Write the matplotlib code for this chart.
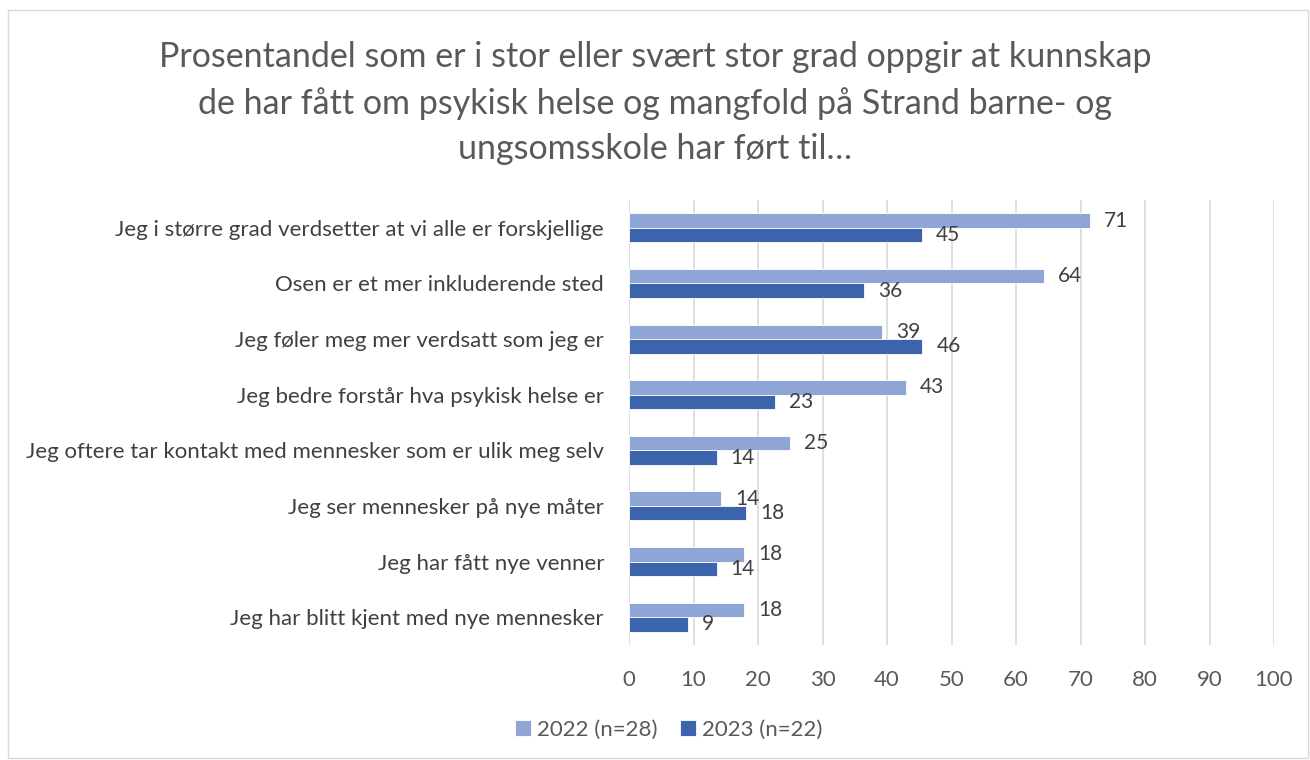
import matplotlib
matplotlib.use('Agg')
import matplotlib.pyplot as plt
import matplotlib.patches as mpatches
import numpy as np

categories = [
    "Jeg i større grad verdsetter at vi alle er forskjellige",
    "Osen er et mer inkluderende sted",
    "Jeg føler meg mer verdsatt som jeg er",
    "Jeg bedre forstår hva psykisk helse er",
    "Jeg oftere tar kontakt med mennesker som er ulik meg selv",
    "Jeg ser mennesker på nye måter",
    "Jeg har fått nye venner",
    "Jeg har blitt kjent med nye mennesker",
]
values_2022 = [71.4, 64.3, 39.3, 42.9, 25.0, 14.3, 17.9, 17.9]
values_2023 = [45.4, 36.4, 45.5, 22.7, 13.6, 18.2, 13.6, 9.1]
series_names = ["2022 (n=28)", "2023 (n=22)"]
x_ticks = list(range(0, 101, 10))
title = ("Prosentandel som er i stor eller svært stor grad oppgir at kunnskap\n"
         "de har fått om psykisk helse og mangfold på Strand barne- og\n"
         "ungsomsskole har ført til…")

light = '#8FA5D5'
dark = '#3B64AD'
text_col = '#595959'

plt.rcParams['font.family'] = ['Lato', 'DejaVu Sans']

fig = plt.figure(figsize=(13.1, 7.6), dpi=100)
# thin grey frame round the whole chart
fig.patches.append(mpatches.Rectangle((8 / 1310, 2 / 760), 1300 / 1310, 748 / 760,
                                      transform=fig.transFigure, fill=False,
                                      edgecolor='#D9D9D9', linewidth=1))
ax = fig.add_axes([629 / 1310, 1 - 645 / 760, 645 / 1310, 445 / 760])

y = np.arange(len(categories))
h = 0.26
b1 = ax.barh(y - h / 2, values_2022, height=h, color=light, edgecolor='white',
             linewidth=0.6, label=series_names[0], zorder=3)
b2 = ax.barh(y + h / 2, values_2023, height=h, color=dark, edgecolor='white',
             linewidth=0.6, label=series_names[1], zorder=3)

for bars, vals in ((b1, values_2022), (b2, values_2023)):
    for bar, v in zip(bars, vals):
        ax.annotate(f"{v:.0f}", (bar.get_width(), bar.get_y() + bar.get_height() / 2),
                    xytext=(10, 0), textcoords='offset points', va='center',
                    ha='left', fontsize=15, color='#404040')

ax.set_xlim(0, 100)
ax.set_ylim(len(categories) - 0.5, -0.5)
ax.set_xticks(x_ticks)
ax.set_yticks(y)
ax.set_yticklabels(categories)
ax.tick_params(axis='y', length=0, pad=18, labelsize=16, labelcolor='#404040')
ax.tick_params(axis='x', length=0, pad=18, labelsize=16, labelcolor=text_col)
ax.grid(axis='x', color='#D9D9D9', linewidth=1.2, zorder=0)
for s in ax.spines.values():
    s.set_visible(False)

fig.text(0.5, 1 - 103 / 760, title, ha='center', va='center', fontsize=24.5,
         color=text_col, linespacing=1.5)

fig.legend(handles=[b1, b2], loc='center', bbox_to_anchor=(669 / 1310, 1 - 730 / 760),
           ncol=2, frameon=False, fontsize=16, labelcolor=text_col,
           handlelength=0.7, handleheight=0.7, handletextpad=0.3, columnspacing=1.0)

fig.savefig('out.png', dpi=100)
